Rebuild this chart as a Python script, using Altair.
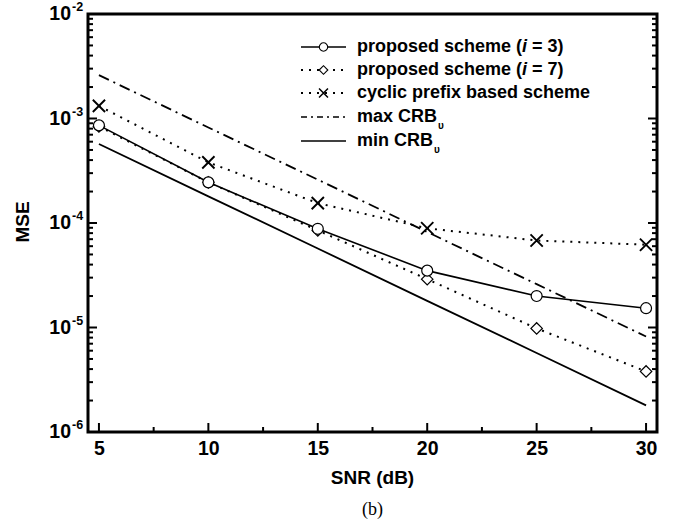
import altair as alt
import pandas as pd

# ---- data ----
snr = [5, 10, 15, 20, 25, 30]
mse_i3 = [8.6e-4, 2.45e-4, 8.8e-5, 3.5e-5, 2.0e-5, 1.53e-5]
mse_i7 = [8.4e-4, 2.45e-4, 8.5e-5, 2.9e-5, 9.8e-6, 3.8e-6]
mse_cp = [1.32e-3, 3.8e-4, 1.55e-4, 8.9e-5, 6.8e-5, 6.2e-5]
crb_max = [2.6e-3, 8.2e-4, 2.6e-4, 8.2e-5, 2.6e-5, 8.2e-6]
crb_min = [5.7e-4, 1.8e-4, 5.7e-5, 1.8e-5, 5.7e-6, 1.8e-6]

x_major = [5, 10, 15, 20, 25, 30]
x_minor = [7.5, 12.5, 17.5, 22.5, 27.5]
y_major = [1e-6, 1e-5, 1e-4, 1e-3, 1e-2]
y_exps = ["-6", "-5", "-4", "-3", "-2"]
y_minor = [k * 10.0 ** e for e in range(-6, -2) for k in range(2, 10)]

FONT = "Liberation Sans"
W, H = 569, 418
TOP = 14
TICK_FS = 19.5

xs = alt.Scale(type="linear", domain=[4.5, 30.5], nice=False, zero=False)
ys = alt.Scale(type="log", domain=[1e-6, 1e-2], nice=False)
x_axis = alt.Axis(values=x_major, labelFontSize=TICK_FS, labelFontWeight="bold",
                  labelFont=FONT, labelColor="black", ticks=False, domain=False,
                  grid=False, labelPadding=7, title=None, format="d")


def X():
    return alt.X("snr:Q", scale=xs, axis=x_axis)


def Y():
    return alt.Y("mse:Q", scale=ys, axis=None)


def series(vals, shape, size, dash=None, width=1.6, hollow=True):
    df = pd.DataFrame({"snr": snr, "mse": vals})
    base = alt.Chart(df).encode(x=X(), y=Y())
    lkw = dict(color="black", strokeWidth=width)
    if dash:
        lkw["strokeDash"] = dash
    layers = [base.mark_line(**lkw)]
    if shape:
        if hollow:
            pts = base.mark_point(shape=shape, size=size, filled=True, fill="white",
                                  stroke="black", strokeWidth=1.2, opacity=1)
        else:
            pts = base.mark_point(shape=shape, size=size, filled=False,
                                  stroke="black", strokeWidth=1.9, opacity=1)
        layers.append(pts)
    return layers


XSHAPE = "M-1,-1L1,1M1,-1L-1,1"
DOT = [2, 6]
DASHDOT = [11, 5, 2, 5]

data_layers = []
data_layers += series(crb_min, None, 0, width=1.8)
data_layers += series(crb_max, None, 0, dash=DASHDOT, width=1.8)
data_layers += series(mse_cp, XSHAPE, 150, dash=DOT, width=2, hollow=False)
data_layers += series(mse_i7, "diamond", 130, dash=DOT, width=2)
data_layers += series(mse_i3, "circle", 120, width=1.6)


# ---- inward ticks on the frame ----
def yticks(vals, length):
    df = pd.DataFrame({"mse": vals})
    b = alt.Chart(df)
    left = b.mark_rule(color="black", strokeWidth=2).encode(
        y=Y(), x=alt.value(0), x2=alt.value(length))
    right = b.mark_rule(color="black", strokeWidth=2).encode(
        y=Y(), x=alt.value(W - length), x2=alt.value(W))
    return [left, right]


def xticks(vals, length):
    df = pd.DataFrame({"snr": vals})
    return [alt.Chart(df).mark_rule(color="black", strokeWidth=2).encode(
        x=X(), y=alt.value(H - length), y2=alt.value(H))]


tick_layers = yticks(y_major, 9) + yticks(y_minor, 5) + xticks(x_major, 9) + xticks(x_minor, 5)

# ---- y tick labels as 10 with superscript exponent ----
ylab = pd.DataFrame({"mse": y_major, "base": ["10"] * 5, "exp": y_exps})
ylab_base = alt.Chart(ylab).mark_text(font=FONT, fontSize=TICK_FS, fontWeight="bold",
                                      align="right", baseline="middle", color="black").encode(
    y=Y(), x=alt.value(-17), text="base:N")
ylab_exp = alt.Chart(ylab).mark_text(font=FONT, fontSize=12.5, fontWeight="bold",
                                     align="left", baseline="middle", dy=-7, color="black").encode(
    y=Y(), x=alt.value(-16), text="exp:N")


# ---- titles ----
def label(txt, x, y, size=19, weight="bold", font=FONT, angle=0, align="center", style="normal"):
    kw = dict(font=font, fontSize=size, fontWeight=weight, align=align,
              baseline="middle", color="black", fontStyle=style)
    if angle:
        kw["angle"] = angle
    return alt.Chart(pd.DataFrame({"t": [txt]})).mark_text(**kw).encode(
        x=alt.value(x), y=alt.value(y), text="t:N")


titles = [
    label("SNR (dB)", W / 2, 478 - TOP),
    label("MSE", -65, 222 - TOP, angle=270),
    label("(b)", W / 2, 510 - TOP, size=18, weight="normal", font="Liberation Serif"),
]

# ---- legend ----
LX0, LX1, LM, LT = 213, 258, 235.5, 269
rows = [y - TOP for y in (47, 70, 93, 117, 141)]
FS = 18

w_prefix = 9.169 * FS   # width of "proposed scheme ("
w_i = 0.278 * FS        # italic i
w_sp = 0.278 * FS       # space


def leg_line(y, dash=None, width=1.6):
    kw = dict(color="black", strokeWidth=width)
    if dash:
        kw["strokeDash"] = dash
    return alt.Chart(pd.DataFrame({"a": [0]})).mark_rule(**kw).encode(
        x=alt.value(LX0), x2=alt.value(LX1), y=alt.value(y))


def leg_mark(y, shape, size, hollow=True):
    if hollow:
        m = alt.Chart(pd.DataFrame({"a": [0]})).mark_point(
            shape=shape, size=size, filled=True, fill="white", stroke="black",
            strokeWidth=1.1, opacity=1)
    else:
        m = alt.Chart(pd.DataFrame({"a": [0]})).mark_point(
            shape=shape, size=size, filled=False, stroke="black",
            strokeWidth=1.5, opacity=1)
    return m.encode(x=alt.value(LM), y=alt.value(y))


def scheme_label(y, n):
    return [
        label("proposed scheme (", LT, y, size=FS, align="left"),
        label("i", LT + w_prefix, y, size=FS, align="left", style="italic"),
        label("= %s)" % n, LT + w_prefix + w_i + w_sp, y, size=FS, align="left"),
    ]


legend = (
    [leg_line(rows[0]), leg_mark(rows[0], "circle", 70)] + scheme_label(rows[0], "3")
    + [leg_line(rows[1], dash=DOT, width=1.8), leg_mark(rows[1], "diamond", 75)]
    + scheme_label(rows[1], "7")
    + [leg_line(rows[2], dash=DOT, width=1.8), leg_mark(rows[2], XSHAPE, 80, hollow=False),
       label("cyclic prefix based scheme", LT, rows[2], size=FS, align="left"),
       leg_line(rows[3], dash=[6, 4, 2, 4], width=1.6),
       label("max CRB", LT, rows[3], size=FS, align="left"),
       label("υ", LT + 4.445 * FS + 1, rows[3] + 9, size=10, align="left"),
       leg_line(rows[4], width=1.6),
       label("min CRB", LT, rows[4], size=FS, align="left"),
       label("υ", LT + 4.222 * FS + 1, rows[4] + 9, size=10, align="left")]
)

chart = alt.layer(*(tick_layers + data_layers + [ylab_base, ylab_exp] + titles + legend)).properties(
    width=W, height=H,
    autosize=alt.AutoSizeParams(type="none"),
    padding={"left": 88, "top": TOP, "right": 16, "bottom": 531 - TOP - H},
    background="white",
).configure_view(stroke="black", strokeWidth=3)

chart.save("out.html", embed_options={"renderer": "svg", "actions": False})
